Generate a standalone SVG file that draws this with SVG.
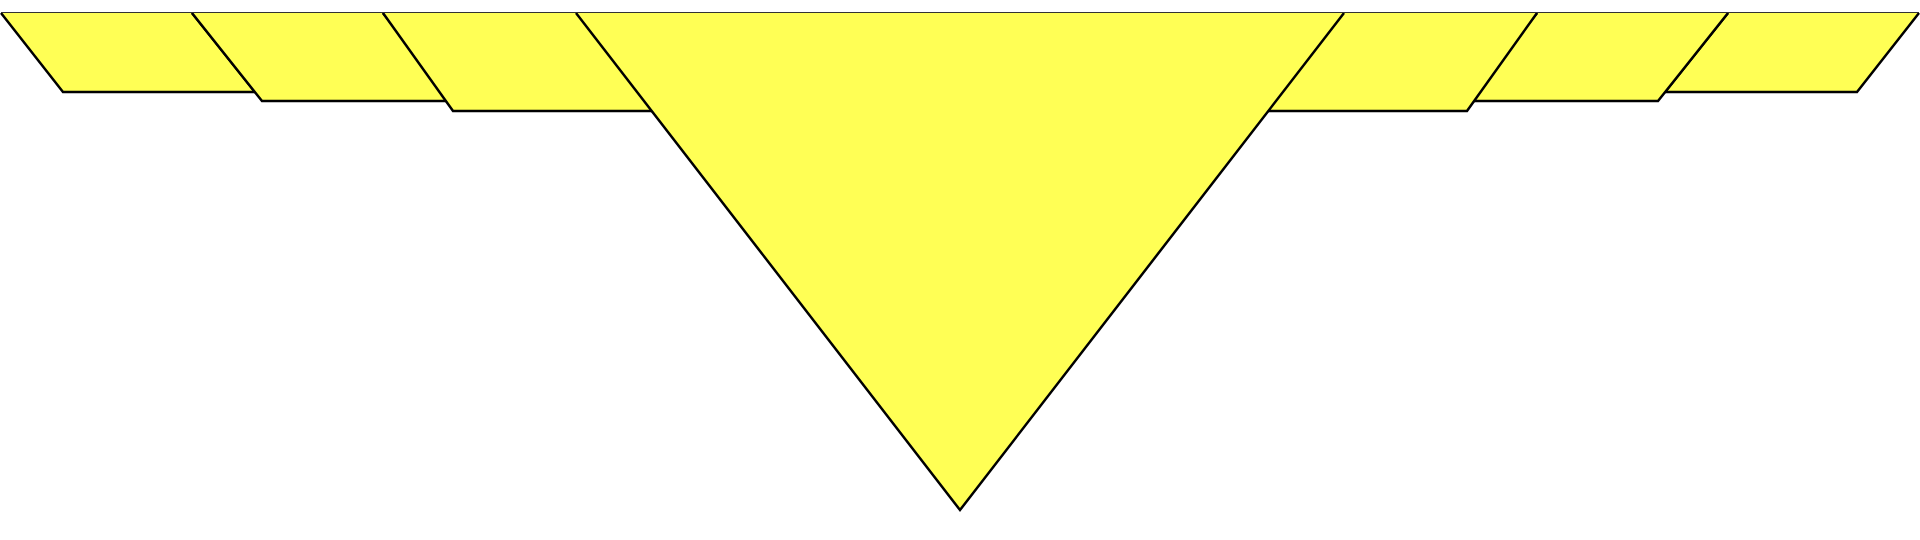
<svg xmlns="http://www.w3.org/2000/svg" width="1920" height="540" viewBox="0 0 1920 540">
<style>
.fill{fill:#ffff55;stroke:none}
.edge{fill:none;stroke:#000;stroke-width:2.5;stroke-linejoin:miter}
.top{stroke:#333;stroke-width:1}
</style>
<rect width="1920" height="540" fill="#fff"/>
<g id="shape-l1">
<polygon class="fill" points="1,13 192,13 255,92 63,92"/>
<polyline class="edge" points="1,13 63,92 255,92 192,13"/>
<line class="top" x1="1" y1="12.5" x2="192" y2="12.5"/>
</g>
<g id="shape-l2">
<polygon class="fill" points="192,13 383,13 453,101 262,101"/>
<polyline class="edge" points="192,13 262,101 453,101 383,13"/>
<line class="top" x1="192" y1="12.5" x2="383" y2="12.5"/>
</g>
<g id="shape-l3">
<polygon class="fill" points="383,13 576,13 660,111 453,111"/>
<polyline class="edge" points="383,13 453,111 660,111"/>
<line class="top" x1="383" y1="12.5" x2="576" y2="12.5"/>
</g>
<g id="shape-r1">
<polygon class="fill" points="1919,13 1728,13 1665,92 1857,92"/>
<polyline class="edge" points="1919,13 1857,92 1665,92 1728,13"/>
<line class="top" x1="1728" y1="12.5" x2="1919" y2="12.5"/>
</g>
<g id="shape-r2">
<polygon class="fill" points="1728,13 1537,13 1467,101 1658,101"/>
<polyline class="edge" points="1728,13 1658,101 1467,101 1537,13"/>
<line class="top" x1="1537" y1="12.5" x2="1728" y2="12.5"/>
</g>
<g id="shape-r3">
<polygon class="fill" points="1537,13 1344,13 1260,111 1467,111"/>
<polyline class="edge" points="1537,13 1467,111 1260,111"/>
<line class="top" x1="1344" y1="12.5" x2="1537" y2="12.5"/>
</g>
<g id="triangle">
<polygon class="fill" points="576,13 1344,13 960,510"/>
<polyline class="edge" points="576,13 960,510 1344,13"/>
<line class="top" x1="576" y1="12.5" x2="1344" y2="12.5"/>
</g>
</svg>
